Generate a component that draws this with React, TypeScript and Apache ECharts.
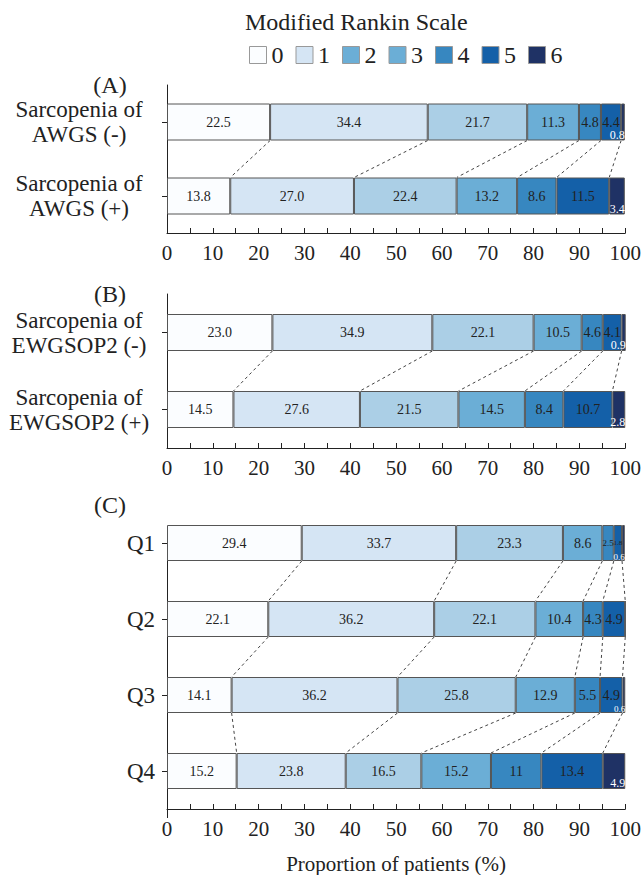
import React, { useEffect, useRef } from 'react';
import * as echarts from 'echarts';

const levels = ['0', '1', '2', '3', '4', '5', '6'];
const barColors = ['#fbfdff', '#d5e5f4', '#abcfe6', '#6baed6', '#3787c0', '#1460a8', '#1f3265'];
const legendColors = ['#fbfdff', '#d5e5f4', '#6baed6', '#6baed6', '#3787c0', '#1460a8', '#1f3265'];

const catsA = ['Sarcopenia of\nAWGS (-)', 'Sarcopenia of\nAWGS (+)'];
const awgsNeg = ['22.5', '34.4', '21.7', '11.3', '4.8', '4.4', '0.8'];
const awgsPos = ['13.8', '27.0', '22.4', '13.2', '8.6', '11.5', '3.4'];

const catsB = ['Sarcopenia of\nEWGSOP2 (-)', 'Sarcopenia of\nEWGSOP2 (+)'];
const ewgNeg = ['23.0', '34.9', '22.1', '10.5', '4.6', '4.1', '0.9'];
const ewgPos = ['14.5', '27.6', '21.5', '14.5', '8.4', '10.7', '2.8'];

const catsC = ['Q1', 'Q2', 'Q3', 'Q4'];
const q1 = ['29.4', '33.7', '23.3', '8.6', '2.5', '1.8', '0.6'];
const q2 = ['22.1', '36.2', '22.1', '10.4', '4.3', '4.9', '0'];
const q3 = ['14.1', '36.2', '25.8', '12.9', '5.5', '4.9', '0.6'];
const q4 = ['15.2', '23.8', '16.5', '15.2', '11', '13.4', '4.9'];

const panelLetters = ['(A)', '(B)', '(C)'];
const xAxisName = 'Proportion of patients (%)';
const legendTitle = 'Modified Rankin Scale';

const FONT = 'Liberation Serif';

const panels = [
  { cats: catsA, rows: [awgsNeg, awgsPos], top: 85, height: 148, barW: 37, labelMargin: 88, align: 'center' },
  { cats: catsB, rows: [ewgNeg, ewgPos], top: 294, height: 154, barW: 37, labelMargin: 88, align: 'center' },
  { cats: catsC, rows: [q1, q2, q3, q4], top: 505, height: 313, barW: 36, labelMargin: 12, align: 'right' },
];

// small-label overrides: [panel, row, level] -> fontSize
const smallLabels: Record<string, number> = {
  '2-0-4': 9,
  '2-0-5': 7,
  '2-0-6': 9,
  '2-2-6': 9,
};

function buildOption() {
  const grids: any[] = [];
  const xAxes: any[] = [];
  const yAxes: any[] = [];
  const series: any[] = [];
  const graphics: any[] = [];

  panels.forEach((p, gi) => {
    grids.push({ left: 167, right: 18, top: p.top, height: p.height, containLabel: false });
    xAxes.push({
      gridIndex: gi,
      type: 'value',
      min: 0,
      max: 100,
      interval: 10,
      axisLine: { show: true, lineStyle: { color: '#222', width: 1 } },
      axisTick: { show: true, inside: true, length: 5, lineStyle: { color: '#222' } },
      minorTick: { show: true, splitNumber: 2, length: 5, lineStyle: { color: '#222' } },
      splitLine: { show: false },
      axisLabel: { fontSize: 21, color: '#222', fontFamily: FONT, margin: 9 },
      name: gi === 2 ? xAxisName : '',
      nameLocation: 'middle',
      nameGap: 44,
      nameTextStyle: { fontSize: 21, color: '#222', fontFamily: FONT },
    });
    yAxes.push({
      gridIndex: gi,
      type: 'category',
      data: p.cats,
      inverse: true,
      axisLine: { show: gi !== 2, lineStyle: { color: '#222', width: 1 } },
      axisTick: { show: true, alignWithLabel: true, length: 5, lineStyle: { color: '#222' } },
      axisLabel: {
        fontSize: 23,
        lineHeight: 25,
        color: '#222',
        fontFamily: FONT,
        margin: p.labelMargin,
        align: p.align,
      },
    });

    levels.forEach((lv, k) => {
      const last = k === 6;
      series.push({
        type: 'bar',
        name: lv,
        xAxisIndex: gi,
        yAxisIndex: gi,
        stack: 'panel' + gi,
        barWidth: p.barW,
        itemStyle: { color: barColors[k], borderColor: '#555', borderWidth: 1 },
        labelLayout: { hideOverlap: false },
        label: {
          show: true,
          position: last ? ['100%', '100%'] : 'inside',
          align: last ? 'right' : 'center',
          verticalAlign: last ? 'bottom' : 'middle',
          offset: last ? [0, 1] : [0, 0],
          overflow: 'none',
          color: last ? '#fff' : '#222',
          fontSize: last ? 12 : 14,
          fontFamily: FONT,
          formatter: (prm: any) => {
            const raw = prm.data && typeof prm.data === 'object' ? prm.data.value : prm.data;
            return Number(raw) === 0 ? '' : String(raw);
          },
        },
        emphasis: { disabled: true },
        data: p.rows.map((r, ri) => {
          const fs = smallLabels[`${gi}-${ri}-${k}`];
          return fs ? { value: r[k], label: { fontSize: fs } } : r[k];
        }),
      });
    });

    // dashed connectors between consecutive bars
    const conn: number[][] = [];
    for (let ri = 0; ri < p.rows.length - 1; ri++) {
      let c1 = 0;
      let c2 = 0;
      for (let k = 0; k < 6; k++) {
        c1 += Number(p.rows[ri][k]);
        c2 += Number(p.rows[ri + 1][k]);
        conn.push([c1, ri, c2, ri + 1]);
      }
    }
    const half = p.barW / 2;
    series.push({
      type: 'custom',
      xAxisIndex: gi,
      yAxisIndex: gi,
      silent: true,
      clip: false,
      encode: { x: 0, y: 1 },
      data: conn,
      renderItem: (params: any, api: any) => {
        const a = api.coord([api.value(0), api.value(1)]);
        const b = api.coord([api.value(2), api.value(3)]);
        return {
          type: 'line',
          shape: { x1: a[0], y1: a[1] + half, x2: b[0], y2: b[1] - half },
          style: { stroke: '#444', lineWidth: 1, lineDash: [3, 3] },
        };
      },
    });

    graphics.push({
      type: 'text',
      x: 110,
      y: p.top,
      style: { text: panelLetters[gi], fontSize: 24, fontFamily: FONT, fill: '#222', textAlign: 'center', textVerticalAlign: 'middle' },
    });
  });

  // panel C vertical axis line (starts at first bar's top)
  graphics.push({
    type: 'line',
    shape: { x1: 167.5, y1: 526, x2: 167.5, y2: 818 },
    style: { stroke: '#222', lineWidth: 1 },
  });

  graphics.push({
    type: 'text',
    x: 245,
    y: 22,
    style: { text: legendTitle, fontSize: 24, fontFamily: FONT, fill: '#222', textAlign: 'left', textVerticalAlign: 'middle' },
  });

  return {
    animation: false,
    backgroundColor: '#fff',
    grid: grids,
    xAxis: xAxes,
    yAxis: yAxes,
    series,
    graphic: graphics,
    legend: {
      left: 244,
      top: 38,
      icon: 'rect',
      itemWidth: 17,
      itemHeight: 17,
      itemGap: 12,
      selectedMode: false,
      textStyle: { fontSize: 24, fontFamily: FONT, color: '#222' },
      itemStyle: { borderColor: '#999', borderWidth: 1 },
      data: levels.map((lv, i) => ({ name: lv, itemStyle: { color: legendColors[i], borderColor: '#999', borderWidth: 1 } })),
    },
  };
}

export default function App() {
  const ref = useRef<HTMLDivElement>(null);
  useEffect(() => {
    if (!ref.current) return;
    const chart = echarts.init(ref.current, null, { renderer: 'svg' });
    chart.setOption(buildOption() as any);
    return () => chart.dispose();
  }, []);
  return <div ref={ref} style={{ position: 'fixed', left: 0, top: 0, width: 644, height: 875, background: '#fff' }} />;
}
